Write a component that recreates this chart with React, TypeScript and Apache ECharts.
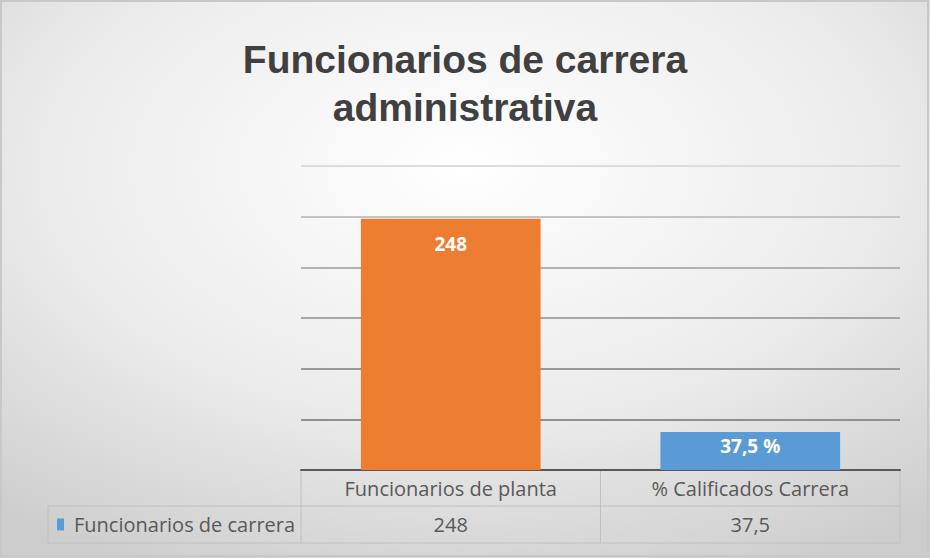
import React, { useEffect, useRef } from "react";
import * as echarts from "echarts";

const titleLines = ["Funcionarios de carrera", "administrativa"];
const categories = ["Funcionarios de planta", "% Calificados Carrera"];
const seriesName = "Funcionarios de carrera";
const values = [248, 37.5];
const tableValues = ["248", "37,5"];
const barLabels = ["248", "37,5 %"];
const barColors = ["#ed7d31", "#5b9bd5"];
const yMin = 0;
const yMax = 300;
const yInterval = 50;

export default function App() {
  const ref = useRef<HTMLDivElement>(null);
  useEffect(() => {
    document.body.style.margin = "0";
    if (!ref.current) return;
    const chart = echarts.init(ref.current, null, { renderer: "svg" });
    const W = 930;
    const H = 558;
    const gridLeft = 301;
    const gridRight = 900;
    const gridTop = 166;
    const gridBottom = 470;
    const rowMid = 506;
    const tableBottom = 543;
    const legendLeft = 48;
    const font = "'Open Sans', 'Noto Sans', sans-serif";
    const titleFont = "'Liberation Sans', Roboto, sans-serif";
    const labelDistances = [16, 4];
    const titleTops = [37, 85];

    const option: any = {
      animation: false,
      title: titleLines.map((t, i) => ({
        text: t,
        left: "center",
        top: titleTops[i],
        padding: 0,
        textStyle: {
          fontFamily: titleFont,
          fontWeight: 700,
          fontSize: 39,
          lineHeight: 45,
          color: "#404040",
        },
      })),
      grid: {
        left: gridLeft,
        right: W - gridRight,
        top: gridTop,
        bottom: H - gridBottom,
      },
      xAxis: {
        type: "category",
        data: categories,
        axisLine: { show: true, lineStyle: { color: "#595959", width: 2 } },
        axisTick: { show: false },
        axisLabel: {
          margin: 8,
          fontFamily: font,
          fontSize: 20,
          color: "#595959",
        },
      },
      yAxis: {
        type: "value",
        min: yMin,
        max: yMax,
        interval: yInterval,
        axisLabel: { show: false },
        axisLine: { show: false },
        axisTick: { show: false },
        splitLine: {
          show: true,
          lineStyle: {
            width: 2,
            color: ["#8f8f8f", "#8f8f8f", "#999999", "#a6a6a6", "#b3b3b3", "#c4c4c4", "#dcdcdc"],
          },
        },
      },
      series: [
        {
          name: seriesName,
          type: "bar",
          barWidth: "60%",
          data: values.map((v, i) => ({
            value: v,
            itemStyle: { color: barColors[i] },
            label: { formatter: barLabels[i], distance: labelDistances[i] },
          })),
          label: {
            show: true,
            position: "insideTop",
            color: "#ffffff",
            fontFamily: font,
            fontWeight: 700,
            fontSize: 19,
          },
        },
      ],
    };
    chart.setOption(option);

    const cx = categories.map((_, i) => chart.convertToPixel({ xAxisIndex: 0 }, i) as number);
    const lineStyle = { stroke: "#c0c0c0", lineWidth: 1 };
    const dataRowY = (rowMid + tableBottom) / 2;
    const graphics: any[] = [
      {
        type: "rect",
        z: -10,
        silent: true,
        shape: { x: 0, y: 0, width: W, height: H },
        style: {
          fill: new echarts.graphic.RadialGradient(0.5, 0.3, 0.8, [
            { offset: 0, color: "#ffffff" },
            { offset: 0.55, color: "#ececec" },
            { offset: 1, color: "#cdcdcd" },
          ]),
        },
      },
      {
        type: "rect",
        z: -9,
        silent: true,
        shape: { x: 1, y: 1, width: W - 3, height: H - 3 },
        style: { fill: "none", stroke: "#c8c8c8", lineWidth: 2 },
      },
      { type: "line", shape: { x1: gridLeft, y1: gridBottom, x2: gridLeft, y2: tableBottom }, style: lineStyle },
      { type: "line", shape: { x1: (gridLeft + gridRight) / 2, y1: gridBottom, x2: (gridLeft + gridRight) / 2, y2: tableBottom }, style: lineStyle },
      { type: "line", shape: { x1: gridRight, y1: gridBottom, x2: gridRight, y2: tableBottom }, style: lineStyle },
      { type: "line", shape: { x1: legendLeft, y1: rowMid, x2: gridRight, y2: rowMid }, style: lineStyle },
      { type: "line", shape: { x1: legendLeft, y1: tableBottom, x2: gridRight, y2: tableBottom }, style: lineStyle },
      { type: "line", shape: { x1: legendLeft, y1: rowMid, x2: legendLeft, y2: tableBottom }, style: lineStyle },
      {
        type: "rect",
        shape: { x: 57, y: dataRowY - 6, width: 7, height: 12 },
        style: { fill: barColors[1] },
      },
      {
        type: "text",
        x: 74,
        y: dataRowY,
        style: {
          text: seriesName,
          fontFamily: font,
          fontSize: 20,
          fill: "#595959",
          verticalAlign: "middle",
          textAlign: "left",
        },
      },
      ...tableValues.map((t, i) => ({
        type: "text",
        x: cx[i],
        y: dataRowY,
        style: {
          text: t,
          fontFamily: font,
          fontSize: 20,
          fill: "#595959",
          verticalAlign: "middle",
          textAlign: "center",
        },
      })),
    ];
    chart.setOption({ graphic: graphics });

    return () => chart.dispose();
  }, []);
  return <div ref={ref} style={{ width: 930, height: 558 }} />;
}
